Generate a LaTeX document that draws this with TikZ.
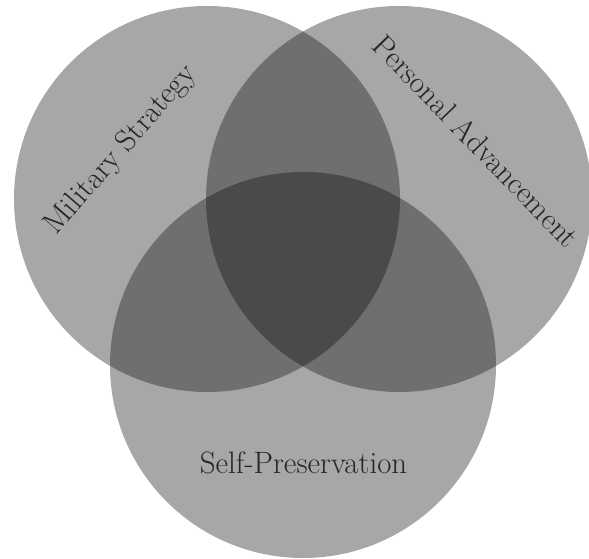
\documentclass[tikz,border=0pt]{standalone}
\usepackage{tikz}
\usetikzlibrary{positioning}
\definecolor{venngray}{RGB}{14, 10, 12}
\tikzset{
  venn/.style={
    circle, fill=venngray, fill opacity=0.36,
    minimum size=386bp, inner sep=0
  },
  vennlabel/.style={font=\fontsize{31}{37}\selectfont, text=black!85, inner sep=0}
}
\begin{document}
\begin{tikzpicture}[x=1bp, y=1bp]
  \useasboundingbox (0,0) rectangle (589,559);

  \node[venn] (military) at (207,360) {};
  \node[venn] (personal) at (399,360) {};
  \node[venn] (self) at (303,194) {};

  \node[vennlabel, rotate=49] (militaryText) at (121,409) {Military Strategy};
  \node[vennlabel, rotate=-46] (personalText) at (476,418) {Personal Advancement};
  \node[vennlabel] (selfText) at (303.5,96.5) {Self-Preservation};
\end{tikzpicture}
\end{document}
